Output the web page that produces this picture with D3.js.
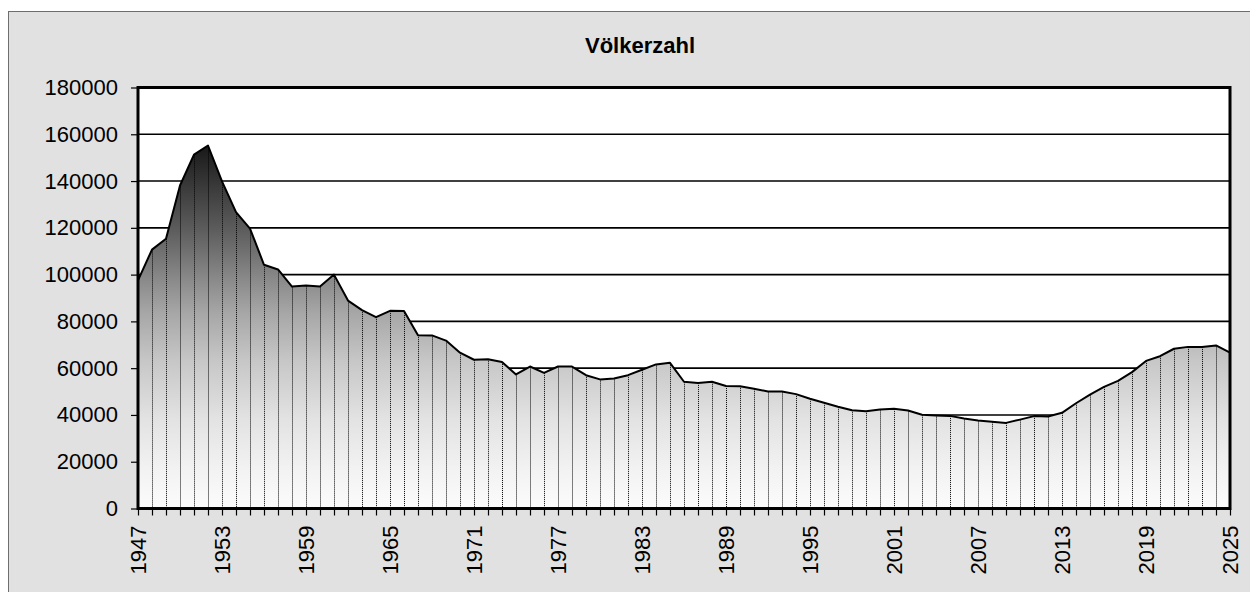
<!DOCTYPE html>
<html>
<head>
<meta charset="utf-8">
<script src="https://cdn.jsdelivr.net/npm/d3@7"></script>
<style>
  html, body { margin: 0; padding: 0; background: #fff; }
  svg { display: block; font-family: "Liberation Sans", Arial, sans-serif; }
</style>
</head>
<body>
<script>
// Völkerzahl - area chart with drop lines

const years = [1947, 1948, 1949, 1950, 1951, 1952, 1953, 1954, 1955, 1956,
  1957, 1958, 1959, 1960, 1961, 1962, 1963, 1964, 1965, 1966,
  1967, 1968, 1969, 1970, 1971, 1972, 1973, 1974, 1975, 1976,
  1977, 1978, 1979, 1980, 1981, 1982, 1983, 1984, 1985, 1986,
  1987, 1988, 1989, 1990, 1991, 1992, 1993, 1994, 1995, 1996,
  1997, 1998, 1999, 2000, 2001, 2002, 2003, 2004, 2005, 2006,
  2007, 2008, 2009, 2010, 2011, 2012, 2013, 2014, 2015, 2016,
  2017, 2018, 2019, 2020, 2021, 2022, 2023, 2024, 2025];

const colonies = [97500, 110700, 115300, 138100, 151300, 155200, 139900, 126700, 119700, 104200,
  102200, 94900, 95300, 94900, 100000, 88900, 84800, 81800, 84500, 84400,
  74100, 74000, 71800, 66600, 63600, 63800, 62600, 57300, 60700, 58000,
  60700, 60700, 57000, 55200, 55600, 57000, 59300, 61600, 62300, 54200,
  53700, 54200, 52400, 52300, 51200, 50000, 50000, 48900, 46900, 45200,
  43500, 42000, 41600, 42300, 42600, 41900, 40100, 39800, 39600, 38500,
  37600, 37100, 36600, 38000, 39500, 39300, 40900, 45000, 48700, 52000,
  54600, 58300, 63100, 65100, 68300, 69100, 69000, 69700, 66600];

const yTicks = [0, 20000, 40000, 60000, 80000, 100000, 120000, 140000, 160000, 180000];
const xLabels = [1947, 1953, 1959, 1965, 1971, 1977, 1983, 1989, 1995, 2001, 2007, 2013, 2019, 2025];

const data = years.map((y, i) => ({year: y, value: colonies[i]}));

const width = 1250, height = 592;
const plot = {left: 138, right: 1230, top: 87.5, bottom: 508.5};

const svg = d3.select('body').append('svg')
  .attr('width', width)
  .attr('height', height);

// chart background frame (runs off the right and bottom edge)
svg.append('rect')
  .attr('x', 8.5).attr('y', 11.5)
  .attr('width', width).attr('height', height)
  .attr('fill', '#e1e1e1')
  .attr('stroke', '#6e6e6e')
  .attr('stroke-width', 1);

svg.append('text')
  .attr('x', 640).attr('y', 53)
  .attr('text-anchor', 'middle')
  .style('font-size', '22px')
  .style('font-weight', 'bold')
  .text('Völkerzahl');

const x = d3.scaleLinear()
  .domain([years[0], years[years.length - 1]])
  .range([plot.left, plot.right]);

const y = d3.scaleLinear()
  .domain([0, 180000])
  .range([plot.bottom, plot.top]);

svg.append('rect')
  .attr('x', plot.left).attr('y', plot.top)
  .attr('width', plot.right - plot.left)
  .attr('height', plot.bottom - plot.top)
  .attr('fill', '#fff');

// gridlines
svg.append('g')
  .selectAll('line')
  .data(yTicks.slice(1, -1))
  .join('line')
  .attr('x1', plot.left).attr('x2', plot.right)
  .attr('y1', d => y(d)).attr('y2', d => y(d))
  .attr('stroke', '#000')
  .attr('stroke-width', 1.6);

// gradient for the area
const defs = svg.append('defs');
const grad = defs.append('linearGradient')
  .attr('id', 'areaGrad')
  .attr('gradientUnits', 'userSpaceOnUse')
  .attr('x1', 0).attr('x2', 0)
  .attr('y1', y(155200)).attr('y2', plot.bottom);
[[0, 24], [0.12, 60], [0.23, 92], [0.37, 138], [0.46, 166], [0.59, 198], [0.75, 226], [0.9, 243], [1, 252]]
  .forEach(([o, g]) => {
    grad.append('stop')
      .attr('offset', o)
      .attr('stop-color', d3.rgb(g, g, g).formatHex());
  });

const area = d3.area()
  .x(d => x(d.year))
  .y0(plot.bottom)
  .y1(d => y(d.value));

const line = d3.line()
  .x(d => x(d.year))
  .y(d => y(d.value));

svg.append('path')
  .datum(data)
  .attr('d', area)
  .attr('fill', 'url(#areaGrad)');

// drop lines
svg.append('g')
  .selectAll('line')
  .data(data.slice(1, -1))
  .join('line')
  .attr('x1', d => Math.round(x(d.year)) + 0.5)
  .attr('x2', d => Math.round(x(d.year)) + 0.5)
  .attr('y1', d => y(d.value))
  .attr('y2', plot.bottom)
  .attr('stroke', '#000')
  .attr('stroke-width', 1)
  .attr('stroke-dasharray', '1,1');

svg.append('path')
  .datum(data)
  .attr('d', line)
  .attr('fill', 'none')
  .attr('stroke', '#000')
  .attr('stroke-width', 2)
  .attr('stroke-linejoin', 'round');

// plot border
svg.append('rect')
  .attr('x', plot.left).attr('y', plot.top)
  .attr('width', plot.right - plot.left)
  .attr('height', plot.bottom - plot.top)
  .attr('fill', 'none')
  .attr('stroke', '#000')
  .attr('stroke-width', 3);

// y axis
const yAxis = d3.axisLeft(y)
  .tickValues(yTicks)
  .tickSize(7)
  .tickPadding(13)
  .tickFormat(d => String(d));

svg.append('g')
  .attr('transform', `translate(${plot.left},0)`)
  .call(yAxis)
  .call(g => g.select('.domain').remove())
  .call(g => g.selectAll('line').attr('stroke', '#000').attr('stroke-width', 1.2))
  .call(g => g.selectAll('text')
    .attr('fill', '#000')
    .style('font-size', '22px')
    .style('font-family', '"Liberation Sans", Arial, sans-serif'));

// x axis: tick every year, label every 6 years
const xAxis = d3.axisBottom(x)
  .tickValues(years)
  .tickSize(7)
  .tickFormat(d => xLabels.includes(d) ? String(d) : '');

svg.append('g')
  .attr('transform', `translate(0,${plot.bottom})`)
  .call(xAxis)
  .call(g => g.select('.domain').remove())
  .call(g => g.selectAll('line').attr('stroke', '#000').attr('stroke-width', 1.2))
  .call(g => g.selectAll('text')
    .attr('fill', '#000')
    .attr('transform', 'rotate(-90)')
    .attr('text-anchor', 'end')
    .attr('x', -17)
    .attr('y', 0)
    .attr('dy', '0.36em')
    .style('font-size', '22px')
    .style('font-family', '"Liberation Sans", Arial, sans-serif'));
</script>
</body>
</html>
